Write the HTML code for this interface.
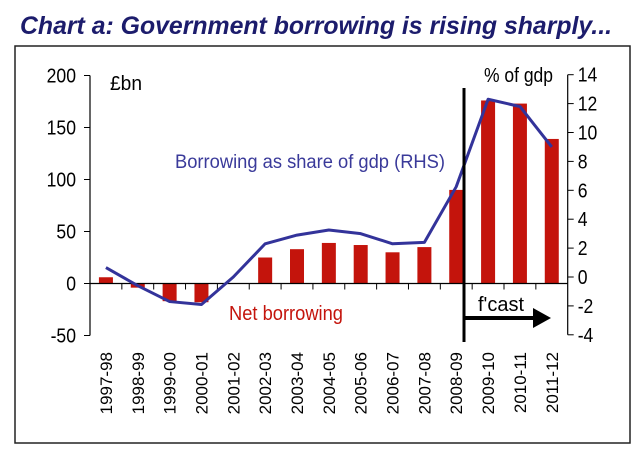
<!DOCTYPE html>
<html><head><meta charset="utf-8"><style>
body{margin:0;background:#fff;}
svg{display:block;font-family:"Liberation Sans",Arial,sans-serif;}
</style></head><body>
<svg width="644" height="455" viewBox="0 0 644 455">
<text x="20" y="34" font-size="25" font-weight="bold" font-style="italic" fill="#1c1c6c" textLength="592" lengthAdjust="spacingAndGlyphs">Chart a: Government borrowing is rising sharply...</text>
<rect x="15" y="46" width="615" height="397" fill="none" stroke="#222" stroke-width="1.5"/>
<g id="g"></g>
</svg>
<script>
const categories=["1997-98","1998-99","1999-00","2000-01","2001-02","2002-03","2003-04","2004-05","2005-06","2006-07","2007-08","2008-09","2009-10","2010-11","2011-12"];
const netBorrowing=[6,-4,-17,-18,0,25,33,39,37,30,35,90,176,173,139];
const gdpShare=[0.65,-0.6,-1.7,-1.9,0,2.3,2.9,3.25,3.0,2.3,2.4,6.25,12.3,11.8,9.0];
const leftTicks=[200,150,100,50,0,-50];
const rightTicks=[14,12,10,8,6,4,2,0,-2,-4];
const NS="http://www.w3.org/2000/svg";
const g=document.getElementById('g');
const L=90,R=567.7,step=(R-L)/categories.length;
const yL=v=>283.5-v*1.04;
const yR=v=>277-v*14.45;
const xC=i=>L+step*(i+0.5);
function mk(t,a,txt){const e=document.createElementNS(NS,t);for(const k in a)e.setAttribute(k,a[k]);if(txt!==undefined)e.textContent=txt;g.appendChild(e);return e;}
netBorrowing.forEach((v,i)=>{
 const e=mk('rect',{x:xC(i)-7,y:Math.min(yL(v),yL(0)),width:14,height:Math.abs(yL(v)-yL(0)),fill:'#c4140c'});
 
 
});
let e=mk('line',{x1:L,y1:yL(200),x2:L,y2:yL(-50),stroke:'#000','stroke-width':1.2});

e=mk('line',{x1:R,y1:yR(14),x2:R,y2:yR(-4),stroke:'#000','stroke-width':1.2});

e=mk('line',{x1:L,y1:yL(0),x2:R,y2:yL(0),stroke:'#000','stroke-width':1.2});

leftTicks.forEach(v=>{
 mk('line',{x1:L-6,y1:yL(v),x2:L,y2:yL(v),stroke:'#000'});
 const t=mk('text',{x:L-14,y:yL(v)+7,'font-size':20,'text-anchor':'end',transform:`translate(${(L-14)*0.12},0) scale(0.88,1)`},v);
 
});
rightTicks.forEach(v=>{
 mk('line',{x1:R,y1:yR(v),x2:R+6,y2:yR(v),stroke:'#000'});
 const t=mk('text',{x:R+10,y:yR(v)+7,'font-size':20,transform:`translate(${(R+10)*0.12},0) scale(0.88,1)`},v);
 
});
for(let i=1;i<categories.length;i++)mk('line',{x1:L+step*i,y1:yL(0),x2:L+step*i,y2:yL(0)+6,stroke:'#000'});
categories.forEach((c,i)=>{
 const t=mk('text',{x:0,y:0,'font-size':17,'text-anchor':'end',transform:`translate(${xC(i)+6},352) rotate(-90)`},c);
 
});
e=mk('polyline',{points:gdpShare.map((v,i)=>xC(i)+','+yR(v)).join(' '),fill:'none',stroke:'#33339a','stroke-width':3,'stroke-linejoin':'round'});

e=mk('line',{x1:464,y1:88,x2:464,y2:342,stroke:'#000','stroke-width':3});

e=mk('line',{x1:465,y1:318,x2:536,y2:318,stroke:'#000','stroke-width':4});

mk('polygon',{points:'533,308 551,318 533,328',fill:'#000'});
const labels=[["f'cast",478,311,'#000',20,'forecast-label',46],["£bn",110,90,'#000',20,'left-axis-unit',32],["% of gdp",484,82,'#000',20,'right-axis-unit',69],["Borrowing as share of gdp (RHS)",175,168,'#3a3a9a',19,'line-label',270],["Net borrowing",229,320,'#c4140c',20,'bar-label',114]];
labels.forEach(l=>{
 const t=mk('text',{x:l[1],y:l[2],fill:l[3],'font-size':l[4],textLength:l[6],lengthAdjust:'spacingAndGlyphs'},l[0]);
 
});
</script>
</body></html>
